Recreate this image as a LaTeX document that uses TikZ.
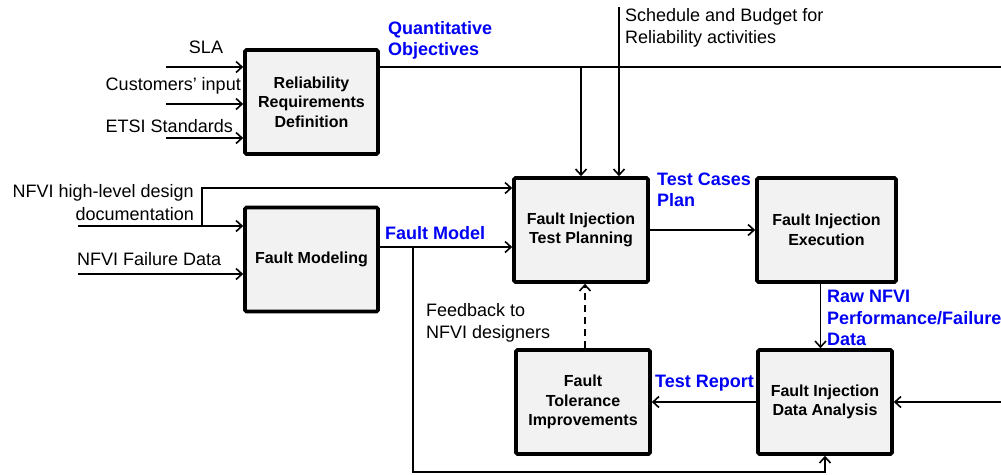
\documentclass[tikz,border=0pt]{standalone}
\usepackage{fontspec}
\setmainfont{Liberation Sans}
\usetikzlibrary{arrows.meta,calc}
\definecolor{boxfill}{RGB}{242,242,242}
\definecolor{lblue}{RGB}{0,0,245}
\begin{document}
\begin{tikzpicture}[x=1pt,y=-1pt,
  box/.style={draw,line width=3.6pt,fill=boxfill,rounded corners=1.5pt,minimum width=#1,minimum height=104pt,align=center,inner sep=2pt,
    font=\bfseries\fontsize{16}{19.5}\selectfont},
  box/.default=134pt,
  conn/.style={line width=1.8pt},
  arr/.style={conn,-{Straight Barb[length=6pt,width=11pt,line width=1.6pt]}},
  plain/.style={font=\fontsize{18}{22}\selectfont,inner sep=0pt},
  blab/.style={font=\bfseries\fontsize{18}{21}\selectfont,text=lblue,inner sep=0pt,align=left}
]
\useasboundingbox (0,0) rectangle (1001,474);

% boxes
\node[box=133pt] (rrd) at (311.5,102) {Reliability\\Requirements\\Definition};
\node[box=133pt] (fm) at (311.5,259.5) {Fault Modeling};
\node[box] (fitp) at (581,230) {Fault Injection\\Test Planning};
\node[box=139pt] (fie) at (826.5,230) {Fault Injection\\Execution};
\node[box] (fti) at (583,402) {Fault\\Tolerance\\Improvements};
\node[box] (fida) at (825,402) {Fault Injection\\Data Analysis};

% free ends
\coordinate (sla) at (166,67);
\coordinate (cust) at (166,104);
\coordinate (etsi) at (166,138);
\coordinate (hl) at (78,226);
\coordinate (hlb) at (202,226);
\coordinate (fail) at (78,274);
\coordinate (qoR) at (1001,67);
\coordinate (sched) at (619,7);
\coordinate (fmb) at (413,247);
\coordinate (bot) at (413,472);
\coordinate (rin) at (1001,402);

% labels
\node[plain] (lsla) at (206,47) {SLA};
\node[plain,anchor=east] (lcust) at (241,86) {Customers’ input};
\node[plain,anchor=east] (letsi) at (233,126) {ETSI Standards};
\node[plain,anchor=east,align=right,font=\fontsize{18}{23}\selectfont] (lhl) at (194,203) {NFVI high-level design\\documentation};
\node[plain,anchor=west] (lfail) at (77,259) {NFVI Failure Data};
\node[blab,anchor=west] (lqo) at (388,40) {Quantitative\\Objectives};
\node[plain,anchor=west,align=left] (lsch) at (625,28) {Schedule and Budget for\\Reliability activities};
\node[blab,anchor=west] (lfm) at (385,233) {Fault Model};
\node[blab,anchor=west] (ltc) at (657,190) {Test Cases\\Plan};
\node[blab,anchor=west,font=\bfseries\fontsize{18}{21.5}\selectfont] (lraw) at (827,318) {Raw NFVI\\Performance/Failure\\Data};
\node[blab,anchor=west] (ltr) at (655,383) {Test Report};
\node[plain,anchor=west,align=left] (lfb) at (426,323) {Feedback to\\NFVI designers};

% connectors
\draw[arr] (sla) -- (sla -| rrd.west);
\draw[arr] (cust) -- (cust -| rrd.west);
\draw[arr] (etsi) -- (etsi -| rrd.west);
\draw[conn] (qoR -| rrd.east) -- (qoR);
\draw[arr] (fitp.north |- qoR) -- (fitp.north);
\draw[arr] (sched) -- (sched |- fitp.north);
\draw[arr] (hl) -- (hl -| fm.west);
\draw[arr] (hlb) -- (202,188) -- (202,188 -| fitp.west);
\draw[arr] (fail) -- (fail -| fm.west);
\draw[arr] (fmb -| fm.east) -- (fmb -| fitp.west);
\draw[arr] (fmb) -- (bot) -- (bot -| fida.south) -- (fida.south);
\draw[arr] (fitp.east) -- (fie.west);
\draw[arr] ([xshift=-6pt]fie.south) -- ([xshift=-6pt]fie.south |- fida.north);
\draw[arr] (fida.west) -- (fti.east);
\draw[arr,dash pattern=on 7pt off 5pt] ([xshift=2pt]fti.north) -- ([xshift=2pt]fti.north |- fitp.south);
\draw[arr] (rin) -- (fida.east);
\end{tikzpicture}
\end{document}
